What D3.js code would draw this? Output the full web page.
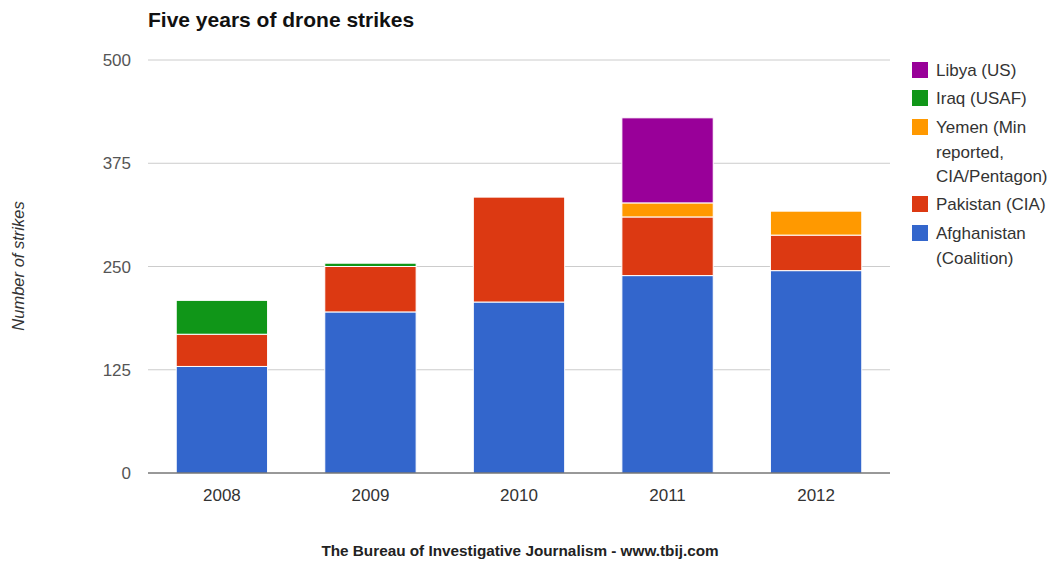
<!DOCTYPE html>
<html><head><meta charset="utf-8">
<script src="https://cdn.jsdelivr.net/npm/d3@7"></script>
<style>body{margin:0;background:#fff;font-family:"Liberation Sans",Arial,sans-serif;}</style>
</head><body><svg id="c" width="1050" height="561"></svg>
<script>
const years = ["2008","2009","2010","2011","2012"];
const seriesNames = ["Afghanistan (Coalition)","Pakistan (CIA)","Yemen (Min reported, CIA/Pentagon)","Iraq (USAF)","Libya (US)"];
const afghanistan = [129, 195, 207, 239, 245];
const pakistan    = [39, 55, 127, 71, 43];
const yemen       = [0, 0, 0, 17, 29];
const iraq        = [41, 4, 0, 0, 0];
const libya       = [0, 0, 0, 103, 0];
const yTicks = [0,125,250,375,500];
const colors = ["#3366cc","#dc3912","#ff9900","#109618","#990099"];

const svg = d3.select("#c");
const m = {l:148, r:890, t:60, b:473};
const x = d3.scaleBand().domain(years).range([m.l,m.r]).paddingInner(0.385).paddingOuter(0.19);
const y = d3.scaleLinear().domain([0,500]).range([m.b,m.t]);

// gridlines
svg.append("g").selectAll("line").data(yTicks.filter(d=>d>0)).join("line")
  .attr("x1",m.l).attr("x2",m.r).attr("y1",d=>y(d)).attr("y2",d=>y(d))
  .attr("stroke","#cccccc").attr("stroke-width",1);
svg.append("g").selectAll("text").data(yTicks).join("text")
  .attr("x",131).attr("y",d=>y(d)+6).attr("text-anchor","end")
  .attr("font-size",17).attr("fill","#555").text(d=>d);

const table = years.map((yr,i)=>({year:yr, s0:afghanistan[i], s1:pakistan[i], s2:yemen[i], s3:iraq[i], s4:libya[i]}));
const stack = d3.stack().keys(["s0","s1","s2","s3","s4"])(table);
svg.append("g").selectAll("g").data(stack).join("g").attr("fill",(d,i)=>colors[i])
  .selectAll("rect").data(d=>d.filter(p=>p[1]-p[0]>0)).join("rect")
  .attr("x",d=>x(d.data.year)).attr("width",x.bandwidth())
  .attr("y",d=>y(d[1])).attr("height",d=>y(d[0])-y(d[1]))
  .attr("stroke","#fff").attr("stroke-width",1);

// baseline
svg.append("line").attr("x1",m.l).attr("x2",m.r).attr("y1",y(0)).attr("y2",y(0)).attr("stroke","#333").attr("stroke-width",1);

// x labels
svg.append("g").selectAll("text").data(years).join("text")
  .attr("x",d=>x(d)+x.bandwidth()/2).attr("y",501).attr("text-anchor","middle")
  .attr("font-size",17).attr("fill","#333").text(d=>d);

// title
svg.append("text").attr("x",148).attr("y",27).attr("font-size",21).attr("font-weight","bold").attr("fill","#111").text("Five years of drone strikes");
// y title
svg.append("text").attr("transform","translate(24,266) rotate(-90)").attr("text-anchor","middle")
  .attr("font-size",16.5).attr("font-style","italic").attr("fill","#333").text("Number of strikes");
// footer
svg.append("text").attr("x",520).attr("y",556).attr("text-anchor","middle").attr("font-size",15.3).attr("font-weight","bold").attr("fill","#222")
  .text("The Bureau of Investigative Journalism - www.tbij.com");

// legend
const legend = [
  {i:4, lines:["Libya (US)"], y:70},
  {i:3, lines:["Iraq (USAF)"], y:98},
  {i:2, lines:["Yemen (Min","reported,","CIA/Pentagon)"], y:127},
  {i:1, lines:["Pakistan (CIA)"], y:204},
  {i:0, lines:["Afghanistan","(Coalition)"], y:233}
];
const lg = svg.append("g");
legend.forEach(it=>{
  lg.append("rect").attr("x",912).attr("y",it.y-8).attr("width",16).attr("height",16).attr("fill",colors[it.i]);
  it.lines.forEach((t,k)=>{
    lg.append("text").attr("x",936).attr("y",it.y+6+k*24.5).attr("font-size",17).attr("fill","#333").text(t);
  });
});
</script></body></html>
